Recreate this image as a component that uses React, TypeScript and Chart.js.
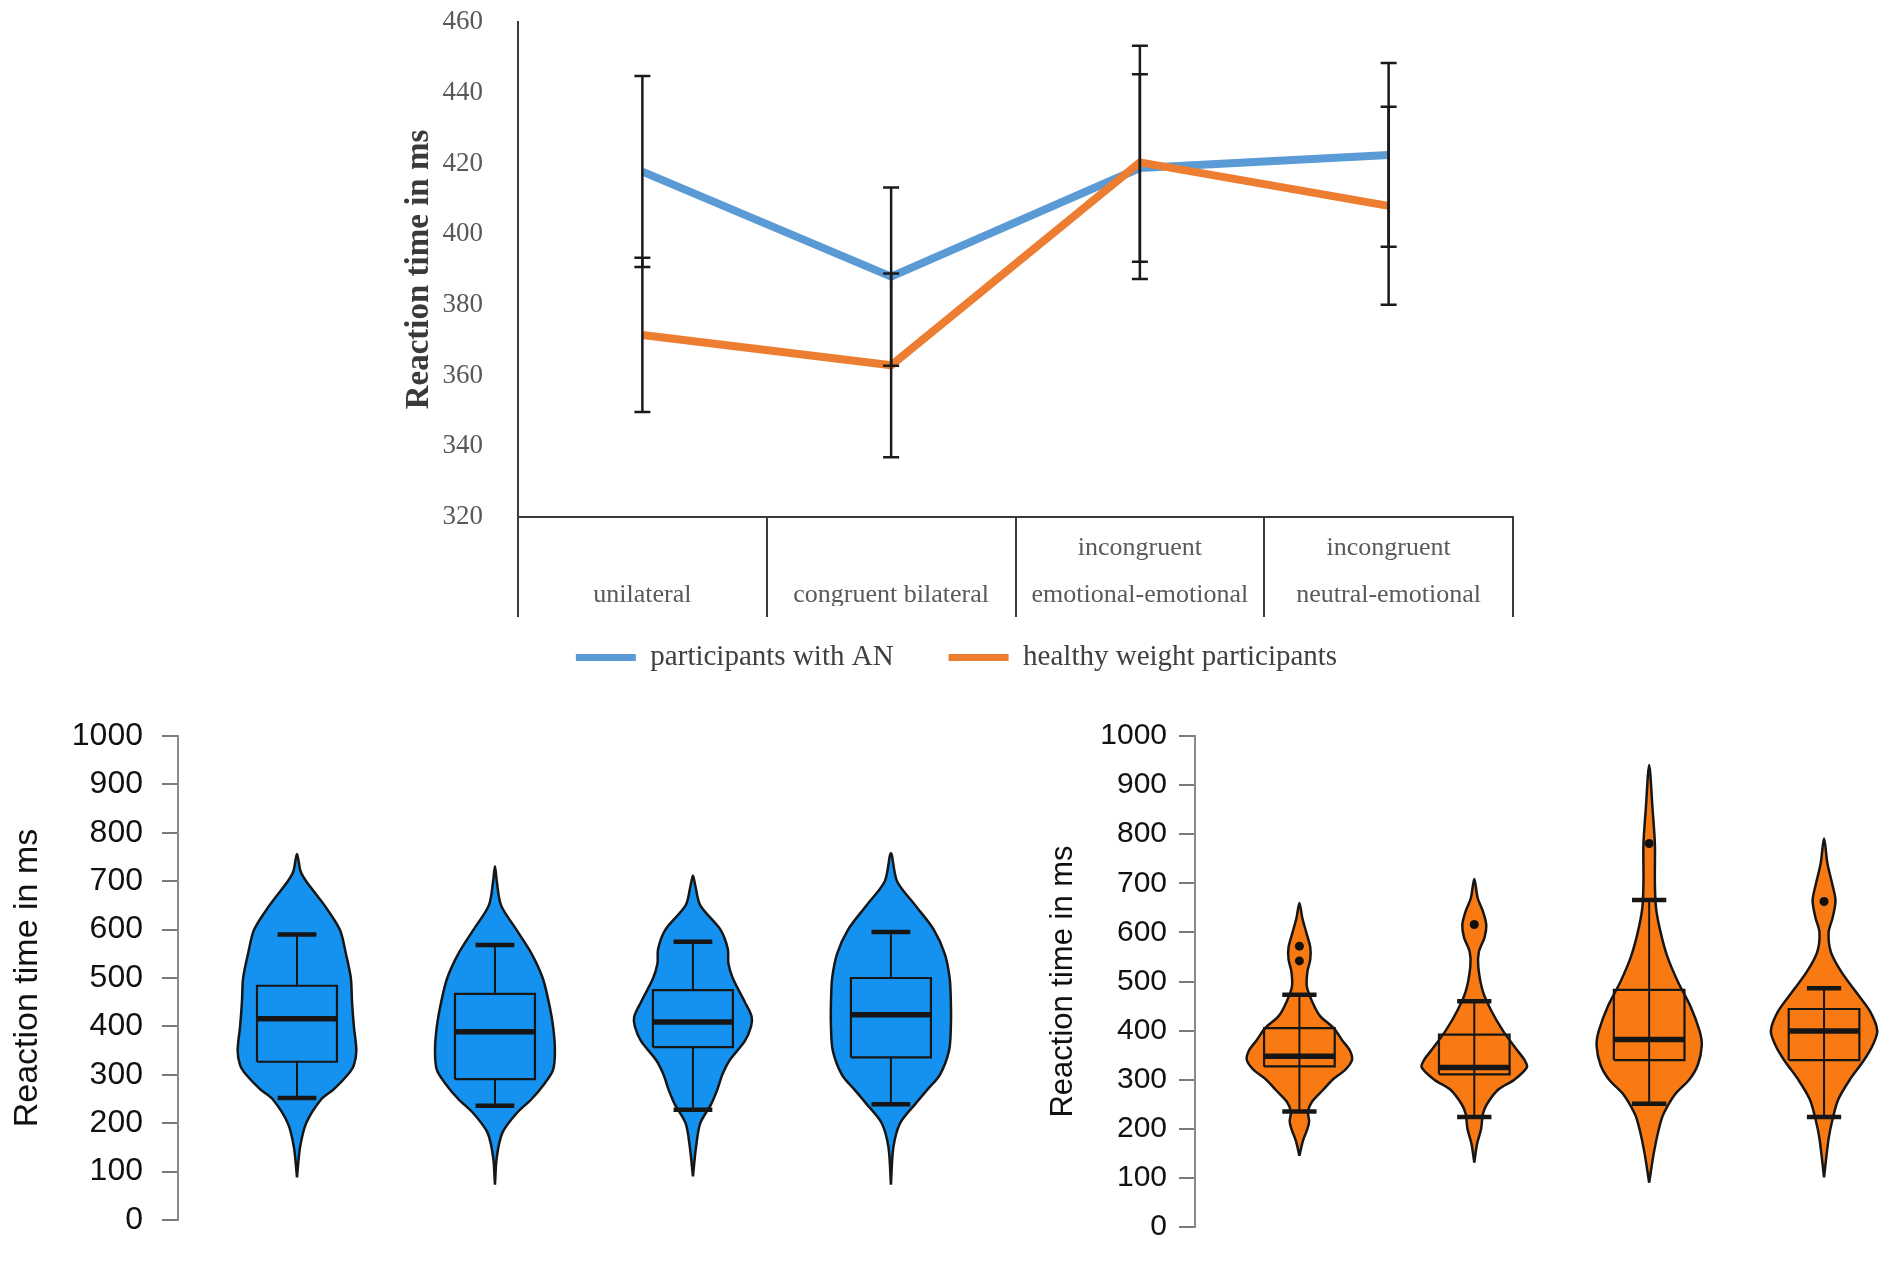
import React, { useEffect, useRef } from "react";
import { Chart, registerables } from "chart.js";

Chart.register(...registerables);

// ---------------- Top chart data ----------------
const topCategories = [
  ["", "unilateral"],
  ["", "congruent bilateral"],
  ["incongruent", "emotional-emotional"],
  ["incongruent", "neutral-emotional"],
];
const seriesNames = ["participants with AN", "healthy weight participants"];
const anMeans = [417.7, 388, 418.7, 422.4];
const hwMeans = [371.5, 362.9, 420.3, 408];
const anErrors = [27, 25.2, 26.5, 26];
const hwErrors = [21.8, 26, 33, 28];
const topYMin = 320;
const topYMax = 460;
const topYStep = 20;
const topYTitle = "Reaction time in ms";

// ---------------- Bottom charts: violin density profiles ----------------
// values (ms) and relative half-widths of each violin outline
const anV1Values = [88, 150, 200, 250, 270, 300, 320, 350, 400, 450, 500, 550, 600, 650, 700, 720, 756];
const anV1Widths = [0, 0.05, 0.15, 0.4, 0.6, 0.83, 0.93, 0.97, 0.93, 0.9, 0.88, 0.8, 0.7, 0.45, 0.15, 0.06, 0];
const anV2Values = [73, 130, 180, 220, 250, 280, 310, 350, 400, 450, 500, 550, 600, 650, 700, 731];
const anV2Widths = [0, 0.03, 0.12, 0.35, 0.6, 0.8, 0.95, 0.98, 0.95, 0.88, 0.78, 0.6, 0.35, 0.1, 0.03, 0];
const anV3Values = [90, 150, 200, 240, 270, 300, 330, 370, 400, 420, 450, 500, 530, 560, 600, 650, 690, 712];
const anV3Widths = [0, 0.05, 0.12, 0.3, 0.4, 0.48, 0.6, 0.85, 0.95, 0.96, 0.85, 0.65, 0.58, 0.57, 0.45, 0.12, 0.04, 0];
const anV4Values = [73, 150, 200, 240, 270, 300, 350, 400, 450, 500, 550, 600, 650, 700, 758];
const anV4Widths = [0, 0.04, 0.15, 0.4, 0.6, 0.8, 0.95, 0.98, 0.98, 0.96, 0.88, 0.7, 0.4, 0.1, 0];

const hwV1Values = [145, 175, 200, 215, 235, 255, 280, 300, 320, 340, 360, 380, 405, 430, 460, 490, 520, 545, 570, 600, 630, 660];
const hwV1Widths = [0, 0.06, 0.14, 0.17, 0.15, 0.22, 0.42, 0.58, 0.8, 0.92, 0.88, 0.75, 0.6, 0.36, 0.22, 0.13, 0.14, 0.19, 0.19, 0.12, 0.05, 0];
const hwV2Values = [131, 170, 200, 230, 250, 280, 300, 325, 340, 360, 400, 440, 480, 530, 560, 590, 615, 640, 670, 709];
const hwV2Widths = [0, 0.05, 0.12, 0.15, 0.22, 0.42, 0.7, 0.92, 0.88, 0.75, 0.5, 0.3, 0.15, 0.07, 0.08, 0.18, 0.21, 0.16, 0.06, 0];
const hwV3Values = [90, 150, 200, 230, 270, 300, 330, 370, 400, 450, 500, 550, 600, 650, 700, 780, 850, 941];
const hwV3Widths = [0, 0.08, 0.17, 0.25, 0.45, 0.7, 0.85, 0.92, 0.88, 0.72, 0.5, 0.32, 0.2, 0.12, 0.1, 0.1, 0.06, 0];
const hwV4Values = [101, 180, 220, 260, 300, 340, 370, 400, 440, 480, 520, 560, 600, 630, 665, 700, 740, 791];
const hwV4Widths = [0, 0.08, 0.15, 0.25, 0.45, 0.7, 0.85, 0.93, 0.8, 0.55, 0.3, 0.12, 0.08, 0.15, 0.2, 0.14, 0.06, 0];

// box plot statistics
const anWhiskerLow = [252, 236, 228, 239];
const anQ1 = [327, 291, 357, 336];
const anMedian = [416, 389, 409, 424];
const anQ3 = [484, 467, 475, 500];
const anWhiskerHigh = [590, 568, 575, 595];

const hwWhiskerLow = [235, 224, 251, 224];
const hwQ1 = [327, 311, 340, 340];
const hwMedian = [348, 325, 382, 399];
const hwQ3 = [405, 392, 483, 444];
const hwWhiskerHigh = [473, 460, 666, 486];
const hwOutliers = [[572, 542], [616], [781], [663]];

const violinYMin = 0;
const violinYMax = 1000;
const violinYStep = 100;
const violinYTitle = "Reaction time in ms";

const SERIF = "'Liberation Serif', 'Times New Roman', serif";
const SANS = "'Liberation Sans', Arial, sans-serif";

const errorBarPlugin = {
  id: "errorBars",
  afterDatasetsDraw(chart: any, _args: any, opts: any) {
    const { ctx } = chart;
    const xs = chart.scales.x;
    const ys = chart.scales.y;
    ctx.save();
    ctx.strokeStyle = opts.color;
    ctx.lineWidth = opts.width;
    chart.data.datasets.forEach((ds: any, di: number) => {
      const errs = opts.errors[di];
      ds.data.forEach((v: number, i: number) => {
        const x = xs.getPixelForValue(i);
        const yTop = ys.getPixelForValue(v + errs[i]);
        const yBot = ys.getPixelForValue(v - errs[i]);
        ctx.beginPath();
        ctx.moveTo(x, yTop);
        ctx.lineTo(x, yBot);
        ctx.moveTo(x - opts.cap, yTop);
        ctx.lineTo(x + opts.cap, yTop);
        ctx.moveTo(x - opts.cap, yBot);
        ctx.lineTo(x + opts.cap, yBot);
        ctx.stroke();
      });
    });
    ctx.restore();
  },
};

// moves the legend box vertically after layout (legend sits closer to the axis)
const legendShiftPlugin = {
  id: "legendShift",
  afterLayout(chart: any, _args: any, opts: any) {
    const lg = chart.legend;
    if (lg && opts && opts.dy) {
      lg.top += opts.dy;
      lg.bottom += opts.dy;
    }
  },
};

function makeTopChart(canvas: HTMLCanvasElement) {
  const axisColor = "#3a3a3a";
  const textColor = "#595959";
  return new Chart(canvas, {
    type: "line",
    data: {
      labels: topCategories as any,
      datasets: [
        {
          label: seriesNames[0],
          data: anMeans,
          borderColor: "#5B9BD5",
          backgroundColor: "#5B9BD5",
          borderWidth: 8,
          pointRadius: 0,
          tension: 0,
          borderJoinStyle: "round",
          order: 1,
        },
        {
          label: seriesNames[1],
          data: hwMeans,
          borderColor: "#ED7D31",
          backgroundColor: "#ED7D31",
          borderWidth: 8,
          pointRadius: 0,
          tension: 0,
          borderJoinStyle: "round",
          order: 0,
        },
      ],
    },
    options: {
      responsive: false,
      animation: false,
      events: [],
      layout: { padding: { top: 22, right: 1, bottom: 0, left: 0 } },
      scales: {
        x: {
          offset: true,
          grid: {
            offset: true,
            drawOnChartArea: false,
            drawTicks: true,
            tickLength: 100,
            color: axisColor,
            lineWidth: 2,
          },
          border: { display: true, color: axisColor, width: 2 },
          ticks: {
            autoSkip: false,
            maxRotation: 0,
            minRotation: 0,
            padding: -92.4,
            color: textColor,
            font: { family: SERIF, size: 26, lineHeight: 1.8 },
          },
          afterFit: (s: any) => {
            s.height = 89;
          },
        },
        y: {
          min: topYMin,
          max: topYMax,
          ticks: {
            stepSize: topYStep,
            padding: 27,
            color: textColor,
            font: { family: SERIF, size: 27 },
          },
          grid: { display: false },
          border: { display: true, color: axisColor, width: 2 },
          title: {
            display: true,
            text: topYTitle,
            color: "#3a3a3a",
            font: { family: SERIF, size: 33, weight: "bold" },
            padding: { top: 0, bottom: 0 },
          },
          afterFit: (s: any) => {
            s.width = 118;
            s.paddingTop = 0;
            s.paddingBottom = 0;
          },
        },
      },
      plugins: {
        legend: {
          position: "bottom",
          labels: {
            boxWidth: 60,
            boxHeight: 7,
            padding: 55,
            color: "#404040",
            font: { family: SERIF, size: 29 },
            generateLabels: (chart: any) =>
              chart.data.datasets.map((ds: any, i: number) => ({
                text: ds.label,
                fillStyle: ds.borderColor,
                strokeStyle: ds.borderColor,
                lineWidth: 0,
                hidden: false,
                datasetIndex: i,
                fontColor: "#404040",
              })),
          },
        },
        legendShift: { dy: -18 },
        tooltip: { enabled: false },
        errorBars: { errors: [anErrors, hwErrors], color: "#1a1a1a", width: 2.5, cap: 8 },
      } as any,
    },
    plugins: [errorBarPlugin as any, legendShiftPlugin as any],
  });
}

const GAP = { x: NaN, y: NaN };

function violinOutline(center: number, values: number[], widths: number[], scale: number) {
  const pts: { x: number; y: number }[] = [];
  for (let i = 0; i < values.length; i++) pts.push({ x: center + widths[i] * scale, y: values[i] });
  for (let i = values.length - 2; i >= 0; i--) pts.push({ x: center - widths[i] * scale, y: values[i] });
  return pts;
}

interface ViolinSpec {
  values: number[][];
  widths: number[][];
  low: number[];
  q1: number[];
  med: number[];
  q3: number[];
  high: number[];
  outliers: number[][];
  color: string;
  widthScale: number;
  whiskerThrough: boolean;
  xMin: number;
  xMax: number;
  yAxisWidth: number;
  tickFont: number;
  tickPadding: number;
  titleFont: number;
  titlePad: number;
  padTop: number;
  padBottom: number;
}

function makeViolinChart(canvas: HTMLCanvasElement, spec: ViolinSpec) {
  const boxHalf = 0.202;
  const capHalf = 0.098;
  const outline = "#161616";
  const datasets: any[] = [];
  spec.values.forEach((vals, k) => {
    datasets.push({
      data: violinOutline(k + 1, vals, spec.widths[k], spec.widthScale),
      borderColor: outline,
      borderWidth: 2.5,
      backgroundColor: spec.color,
      fill: "shape",
      tension: 0.3,
      pointRadius: 0,
      borderJoinStyle: "round",
      order: 5,
    });
  });
  const whiskers: any[] = [];
  const caps: any[] = [];
  const boxes: any[] = [];
  const medians: any[] = [];
  const outs: any[] = [];
  for (let k = 0; k < spec.q1.length; k++) {
    const c = k + 1;
    if (spec.whiskerThrough) {
      whiskers.push({ x: c, y: spec.low[k] }, { x: c, y: spec.high[k] }, GAP);
    } else {
      whiskers.push({ x: c, y: spec.low[k] }, { x: c, y: spec.q1[k] }, GAP);
      whiskers.push({ x: c, y: spec.q3[k] }, { x: c, y: spec.high[k] }, GAP);
    }
    caps.push({ x: c - capHalf, y: spec.low[k] }, { x: c + capHalf, y: spec.low[k] }, GAP);
    caps.push({ x: c - capHalf, y: spec.high[k] }, { x: c + capHalf, y: spec.high[k] }, GAP);
    boxes.push(
      { x: c - boxHalf, y: spec.q1[k] },
      { x: c + boxHalf, y: spec.q1[k] },
      { x: c + boxHalf, y: spec.q3[k] },
      { x: c - boxHalf, y: spec.q3[k] },
      { x: c - boxHalf, y: spec.q1[k] },
      GAP
    );
    medians.push({ x: c - boxHalf, y: spec.med[k] }, { x: c + boxHalf, y: spec.med[k] }, GAP);
    spec.outliers[k].forEach((v) => outs.push({ x: c, y: v }));
  }
  const lineDs = (data: any[], width: number, order: number) => ({
    data,
    borderColor: outline,
    borderWidth: width,
    pointRadius: 0,
    tension: 0,
    fill: false,
    spanGaps: false,
    borderCapStyle: "butt",
    order,
  });
  datasets.push(lineDs(whiskers, 2, 4));
  datasets.push(lineDs(boxes, 2.2, 3));
  datasets.push(lineDs(caps, 4.5, 2));
  datasets.push(lineDs(medians, 5.5, 1));
  datasets.push({
    data: outs,
    showLine: false,
    pointRadius: 4.5,
    pointBackgroundColor: "#111",
    pointBorderWidth: 0,
    order: 0,
  });

  return new Chart(canvas, {
    type: "line",
    data: { datasets },
    options: {
      responsive: false,
      animation: false,
      events: [],
      layout: { padding: { top: spec.padTop, right: 0, bottom: spec.padBottom, left: 0 } },
      scales: {
        x: { type: "linear", display: false, min: spec.xMin, max: spec.xMax },
        y: {
          min: violinYMin,
          max: violinYMax,
          ticks: {
            stepSize: violinYStep,
            padding: spec.tickPadding,
            color: "#111",
            font: { family: SANS, size: spec.tickFont },
            callback: (v: any) => String(v),
          },
          grid: {
            drawOnChartArea: false,
            drawTicks: true,
            tickLength: 16,
            color: "#7a7a7a",
            lineWidth: 2,
          },
          border: { display: true, color: "#8a8a8a", width: 2 },
          title: {
            display: true,
            text: violinYTitle,
            color: "#111",
            font: { family: SANS, size: spec.titleFont },
            padding: { top: spec.titlePad, bottom: 0 },
          },
          afterFit: (s: any) => {
            s.width = spec.yAxisWidth;
            s.paddingTop = 0;
            s.paddingBottom = 0;
          },
        },
      },
      plugins: { legend: { display: false }, tooltip: { enabled: false } },
    } as any,
  });
}

export default function App() {
  const topRef = useRef<HTMLCanvasElement>(null);
  const leftRef = useRef<HTMLCanvasElement>(null);
  const rightRef = useRef<HTMLCanvasElement>(null);

  useEffect(() => {
    const charts: Chart[] = [];
    if (topRef.current) charts.push(makeTopChart(topRef.current));
    if (leftRef.current)
      charts.push(
        makeViolinChart(leftRef.current, {
          values: [anV1Values, anV2Values, anV3Values, anV4Values],
          widths: [anV1Widths, anV2Widths, anV3Widths, anV4Widths],
          low: anWhiskerLow,
          q1: anQ1,
          med: anMedian,
          q3: anQ3,
          high: anWhiskerHigh,
          outliers: [[], [], [], []],
          color: "#1592EF",
          widthScale: 0.309,
          whiskerThrough: false,
          xMin: 0.399,
          xMax: 4.551,
          yAxisWidth: 178,
          tickFont: 32,
          tickPadding: 19,
          titleFont: 34,
          titlePad: 7,
          padTop: 36,
          padBottom: 65,
        })
      );
    if (rightRef.current)
      charts.push(
        makeViolinChart(rightRef.current, {
          values: [hwV1Values, hwV2Values, hwV3Values, hwV4Values],
          widths: [hwV1Widths, hwV2Widths, hwV3Widths, hwV4Widths],
          low: hwWhiskerLow,
          q1: hwQ1,
          med: hwMedian,
          q3: hwQ3,
          high: hwWhiskerHigh,
          outliers: hwOutliers,
          color: "#F97A12",
          widthScale: 0.327,
          whiskerThrough: true,
          xMin: 0.403,
          xMax: 4.42,
          yAxisWidth: 195,
          tickFont: 30,
          tickPadding: 12,
          titleFont: 31,
          titlePad: 45,
          padTop: 36,
          padBottom: 58,
        })
      );
    return () => charts.forEach((c) => c.destroy());
  }, []);

  return (
    <div
      style={{
        position: "absolute",
        left: 0,
        top: 0,
        width: 1902,
        height: 1285,
        background: "#ffffff",
        overflow: "hidden",
      }}
    >
      <canvas ref={topRef} width={1114} height={700} style={{ position: "absolute", left: 400, top: 0 }} />
      <canvas ref={leftRef} width={1000} height={585} style={{ position: "absolute", left: 0, top: 700 }} />
      <canvas ref={rightRef} width={902} height={585} style={{ position: "absolute", left: 1000, top: 700 }} />
    </div>
  );
}
